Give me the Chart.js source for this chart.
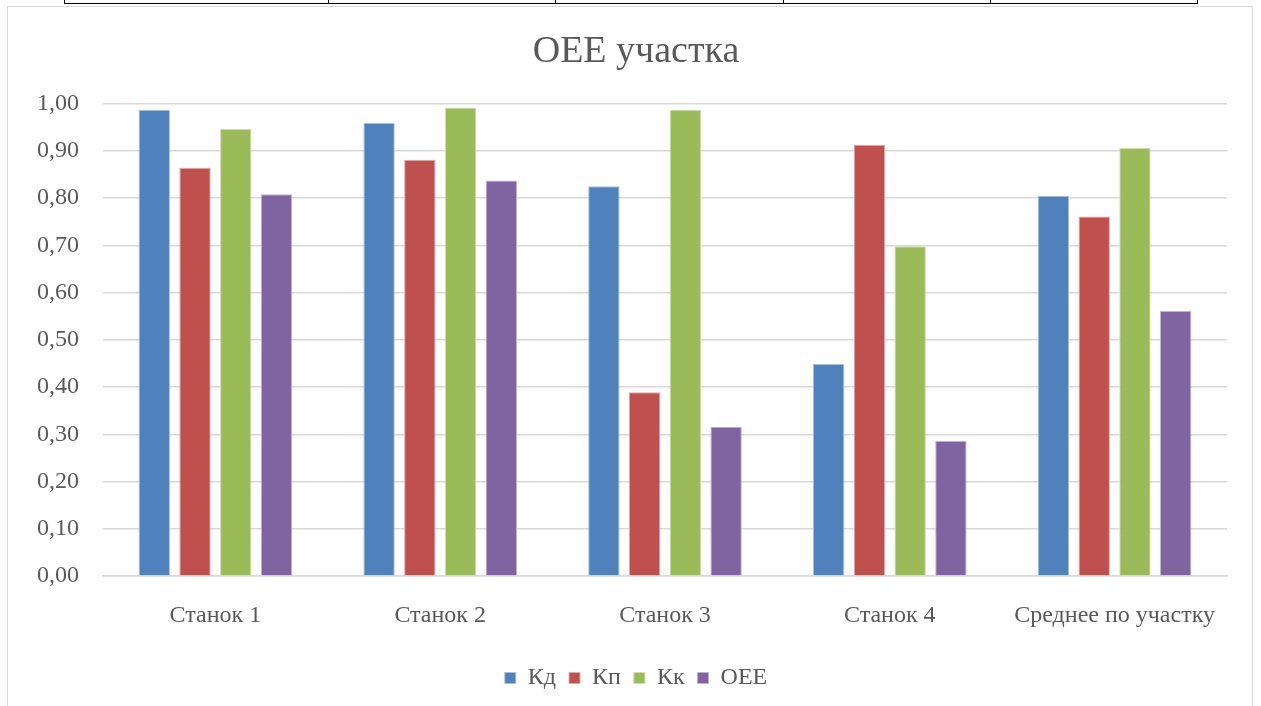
<!DOCTYPE html>
<html>
<head>
<meta charset="utf-8">
<script src="https://cdn.jsdelivr.net/npm/chart.js@4/dist/chart.umd.min.js"></script>
<style>
  html, body { margin: 0; padding: 0; background: #ffffff; width: 1261px; height: 706px; overflow: hidden; }
  #tbl { position: absolute; left: 64px; top: -2px; width: 1134px; height: 6px; border: 1.5px solid #000; border-top: none; box-sizing: border-box; }
  .tv { position: absolute; top: 0; width: 0; height: 6px; border-left: 1.5px solid #000; }
  #frame { position: absolute; left: 7px; top: 6px; width: 1246px; height: 720px; border: 1.5px solid #d9d9d9; box-sizing: border-box; background: #fff; }
  #wrap { position: absolute; left: 8px; top: 8px; width: 1256px; height: 698px; }
</style>
</head>
<body>
<div id="tbl">
  <div class="tv" style="left:263px"></div>
  <div class="tv" style="left:490px"></div>
  <div class="tv" style="left:718px"></div>
  <div class="tv" style="left:925px"></div>
</div>
<div id="frame"></div>
<div id="wrap"><canvas id="c" width="1256" height="698"></canvas></div>
<script>
const categories = ["Станок 1", "Станок 2", "Станок 3", "Станок 4", "Среднее по участку"];
const seriesNames = ["Кд", "Кп", "Кк", "OEE"];
const kd  = [0.987, 0.959, 0.825, 0.449, 0.805];
const kp  = [0.864, 0.881, 0.389, 0.913, 0.761];
const kk  = [0.946, 0.992, 0.987, 0.698, 0.906];
const oee = [0.808, 0.837, 0.316, 0.286, 0.561];
const colors = ["#4f81bd", "#c0504d", "#9bbb59", "#8064a2"];
const borders = ["#a7c0de", "#dfa8a6", "#cddeac", "#bfb2d0"];
const yTicks = [0, 0.1, 0.2, 0.3, 0.4, 0.5, 0.6, 0.7, 0.8, 0.9, 1.0];

const font = "'Liberation Serif', 'Times New Roman', serif";
const values = [kd, kp, kk, oee];

new Chart(document.getElementById('c'), {
  type: 'bar',
  data: {
    labels: categories,
    datasets: seriesNames.map((n, i) => ({
      label: n,
      data: values[i],
      backgroundColor: colors[i],
      borderColor: borders[i],
      borderWidth: 1,
      categoryPercentage: 0.725,
      barPercentage: 0.77
    }))
  },
  options: {
    responsive: false,
    animation: false,
    layout: { padding: { left: 0, right: 0, top: 0, bottom: 6 } },
    plugins: {
      title: {
        display: true,
        text: 'OEE участка',
        color: '#595959',
        font: { family: font, size: 38, weight: 'normal' },
        padding: { top: 21, bottom: 29 }
      },
      legend: {
        position: 'bottom',
        labels: {
          color: '#595959',
          font: { family: font, size: 24 },
          boxWidth: 11,
          boxHeight: 11,
          padding: 13
        }
      },
      tooltip: { enabled: false }
    },
    scales: {
      x: {
        grid: { display: false, drawTicks: false },
        border: { display: true, color: '#d9d9d9', width: 1.5 },
        ticks: { color: '#595959', font: { family: font, size: 24 }, padding: 25, maxRotation: 0 },
        afterFit: s => { s.height = 77; }
      },
      y: {
        min: 0,
        max: 1,
        afterBuildTicks: s => { s.ticks = yTicks.map(v => ({ value: v })); },
        grid: { color: '#d9d9d9', lineWidth: 1.5, drawTicks: false },
        border: { display: false },
        ticks: {
          color: '#595959',
          font: { family: font, size: 24 },
          padding: 24,
          callback: v => Number(v).toFixed(2).replace('.', ',')
        },
        afterFit: s => { s.width = 95; }
      },
      ySpacer: {
        type: 'linear',
        position: 'right',
        display: true,
        grid: { display: false, drawTicks: false },
        border: { display: false },
        ticks: { display: false },
        afterFit: s => { s.width = 37; }
      }
    }
  }
});
</script>
</body>
</html>
